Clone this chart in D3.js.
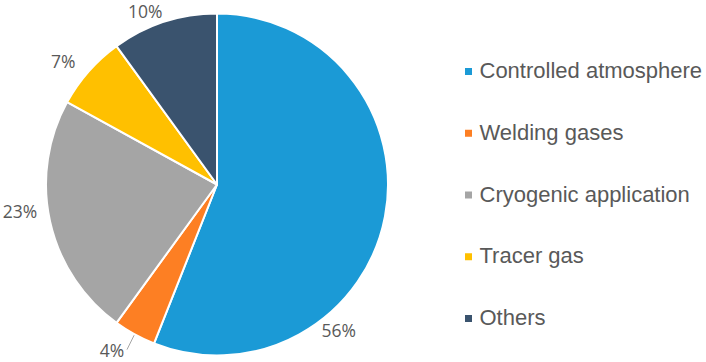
<!DOCTYPE html>
<html>
<head>
<meta charset="utf-8">
<script src="https://cdn.jsdelivr.net/npm/d3@7"></script>
<style>
  body { margin: 0; background: #fff; }
  svg { display: block; }
</style>
</head>
<body>
<div id="chart"></div>
<script>
// data
var categories = ["Controlled atmosphere", "Welding gases", "Cryogenic application", "Tracer gas", "Others"];
var shares = [56, 4, 23, 7, 10];
var colors = ["#1b9ad6", "#fd7f23", "#a5a5a5", "#ffc000", "#3a536e"];

// where Excel put the percentage labels: angle (deg, clockwise from 12 o'clock) and distance from centre
var labelLayout = [[140.2, 190], [212.3, 196.5], [262.1, 199], [308.7, 197], [337.5, 187.5]];

var width = 706, height = 362;
var cx = 217, cy = 184.5, radius = 171;

var svg = d3.select("#chart").append("svg")
    .attr("width", width)
    .attr("height", height);

var pie = d3.pie().sort(null).value(function (d) { return d; });
var arcs = pie(shares);

var arc = d3.arc().innerRadius(0).outerRadius(radius);

var g = svg.append("g")
    .attr("transform", "translate(" + cx + "," + cy + ")");

g.selectAll("path.slice")
    .data(arcs)
    .enter().append("path")
    .attr("class", "slice")
    .attr("d", arc)
    .attr("fill", function (d, i) { return colors[i]; })
    .attr("stroke", "#fff")
    .attr("stroke-width", 2)
    .attr("stroke-linejoin", "round");

// leader line for the small welding slice
var outer = d3.arc().innerRadius(radius + 1).outerRadius(radius + 1);
var wp = outer.centroid(arcs[1]);
var lp = d3.pointRadial(labelLayout[1][0] * Math.PI / 180, labelLayout[1][1]);
g.append("line")
    .attr("x1", wp[0]).attr("y1", wp[1])
    .attr("x2", lp[0] + 15).attr("y2", lp[1] - 1)
    .attr("stroke", "#a6a6a6")
    .attr("stroke-width", 1);

// percentage labels
g.selectAll("text.pct")
    .data(arcs)
    .enter().append("text")
    .attr("class", "pct")
    .attr("transform", function (d, i) {
        var p = d3.pointRadial(labelLayout[i][0] * Math.PI / 180, labelLayout[i][1]);
        return "translate(" + p[0] + "," + p[1] + ")";
    })
    .attr("text-anchor", "middle")
    .attr("dy", "0.36em")
    .style("font-family", "'Open Sans', sans-serif")
    .style("font-size", "17.5px")
    .style("fill", "#595959")
    .text(function (d) { return d.data + "%"; });

// legend
var legend = svg.append("g")
    .attr("transform", "translate(465,78)");

var rows = legend.selectAll("g.row")
    .data(categories)
    .enter().append("g")
    .attr("class", "row")
    .attr("transform", function (d, i) { return "translate(0," + (i * 61.75) + ")"; });

rows.append("rect")
    .attr("x", 0)
    .attr("y", -10)
    .attr("width", 7)
    .attr("height", 7)
    .attr("fill", function (d, i) { return colors[i]; });

rows.append("text")
    .attr("x", 14.5)
    .attr("y", 0)
    .style("font-family", "'Liberation Sans', Arial, sans-serif")
    .style("font-size", "22px")
    .style("fill", "#595959")
    .text(function (d) { return d; });
</script>
</body>
</html>
